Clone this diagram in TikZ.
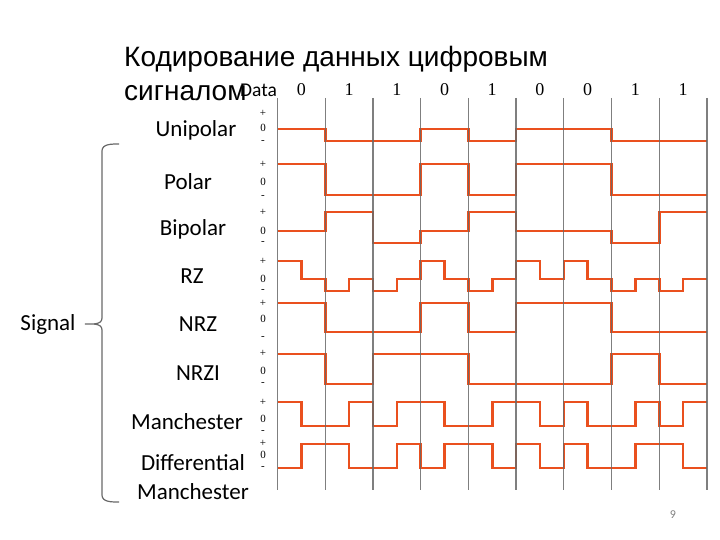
\documentclass[tikz,border=0pt]{standalone}
\usepackage{fontspec}
\setmainfont{Liberation Serif}
\setsansfont{Carlito}
\newfontfamily\titlefont{Liberation Sans}
\usepackage{xcolor}
\usetikzlibrary{positioning}
\definecolor{wavered}{RGB}{234,80,30}
\definecolor{gridgray}{RGB}{105,105,105}

\begin{document}
\begin{tikzpicture}[
        x=1pt, y=-1pt,
        wave/.style={draw=wavered, line width=2.6pt, line join=miter},
        gridline/.style={draw=gridgray, line width=1.3pt, opacity=0.85},
        coding/.style={font=\sffamily\fontsize{23}{24}\selectfont, align=center, inner sep=0pt},
        lvl/.style={font=\fontsize{11}{12}\selectfont, inner sep=0pt},
        bit/.style={font=\fontsize{18}{20}\selectfont, inner sep=0pt},
        brace/.style={draw=gridgray, line width=1.2pt}
    ]
        \useasboundingbox (0,0) rectangle (720,540);
        \def\hb{23.86}

        % Title
        \node[anchor=base west, inner sep=0pt, align=left, font=\titlefont\fontsize{28}{34}\selectfont] (title) at (124,100.5) {Кодирование данных цифровым\\сигналом};

        % Data bits
        \node[font=\sffamily\fontsize{19.5}{22}\selectfont, inner sep=0pt] (data) at (258.5,90) {Data};
        \foreach \d [count=\i from 0] in {0,1,1,0,1,0,0,1,1}
            \node[bit] (bit\i) at ({277.5+\hb+\i*2*\hb},90) {\d};

        % Waveforms
        \draw[wave] (277.5,129) \foreach \l [count=\i from 0] in {129,129,141,141,141,141,129,129,141,141,129,129,129,129,141,141,141,141} { -- ({277.5+\i*\hb},\l) -- ({277.5+(\i+1)*\hb},\l) };
        \draw[wave] (277.5,164) \foreach \l [count=\i from 0] in {164,164,195,195,195,195,164,164,195,195,164,164,164,164,195,195,195,195} { -- ({277.5+\i*\hb},\l) -- ({277.5+(\i+1)*\hb},\l) };
        \draw[wave] (277.5,231) \foreach \l [count=\i from 0] in {231,231,212,212,243,243,231,231,212,212,231,231,231,231,243,243,212,212} { -- ({277.5+\i*\hb},\l) -- ({277.5+(\i+1)*\hb},\l) };
        \draw[wave] (277.5,261) \foreach \l [count=\i from 0] in {261,279,291,279,291,279,261,279,291,279,261,279,261,279,291,279,291,279} { -- ({277.5+\i*\hb},\l) -- ({277.5+(\i+1)*\hb},\l) };
        \draw[wave] (277.5,303) \foreach \l [count=\i from 0] in {303,303,332,332,332,332,303,303,332,332,303,303,303,303,332,332,332,332} { -- ({277.5+\i*\hb},\l) -- ({277.5+(\i+1)*\hb},\l) };
        \draw[wave] (277.5,354) \foreach \l [count=\i from 0] in {354,354,384,384,354,354,354,354,384,384,384,384,384,384,354,354,384,384} { -- ({277.5+\i*\hb},\l) -- ({277.5+(\i+1)*\hb},\l) };
        \draw[wave] (277.5,402) \foreach \l [count=\i from 0] in {402,426,426,402,426,402,402,426,426,402,402,426,402,426,426,402,426,402} { -- ({277.5+\i*\hb},\l) -- ({277.5+(\i+1)*\hb},\l) };
        \draw[wave] (277.5,468) \foreach \l [count=\i from 0] in {468,444,444,468,468,444,468,444,444,468,444,468,444,468,468,444,444,468} { -- ({277.5+\i*\hb},\l) -- ({277.5+(\i+1)*\hb},\l) };

        % Bit boundaries
        \foreach \k in {0,...,9}
            \draw[gridline] ({277.5+\k*2*\hb},98) -- ({277.5+\k*2*\hb},490);

        % Level marks
        \foreach \p/\z/\m [count=\r] in {113/128/142, 164/182/197, 212/231/243, 261/279/291, 303/319/338, 353/371/384, 402/419/432, 443/455/468} {
            \node[lvl] (plus\r) at (263,\p) {+};
            \node[lvl] (zero\r) at (263,\z) {0};
            \node[lvl] (minus\r) at (263,\m) {-};
        }

        % Coding names
        \node[coding] (unipolar) at (196,130) {Unipolar};
        \node[coding] (polar) at (188,182) {Polar};
        \node[coding] (bipolar) at (193,229) {Bipolar};
        \node[coding] (rz) at (192,276) {RZ};
        \node[coding] (nrz) at (198,324) {NRZ};
        \node[coding] (nrzi) at (198,373) {NRZI};
        \node[coding] (manch) at (187,422) {Manchester};
        \node[coding] (diffmanch) at (193,477.5) {Differential\\[5pt]Manchester};

        % Signal and brace
        \node[coding] (signal) at (48,324) {Signal};
        \coordinate (tip) at (85,324);
        \draw[brace] (119,144) to[out=180, in=90] (102,151) -- (102,318) to[out=-90, in=0] (tip) to[out=0, in=90] (102,330) -- (102,495) to[out=-90, in=180] (119,502);

        % Page number
        \node[font=\sffamily\fontsize{12}{14}\selectfont, text=gray] (pagenum) at (673,515) {9};
    \end{tikzpicture}
\end{document}
